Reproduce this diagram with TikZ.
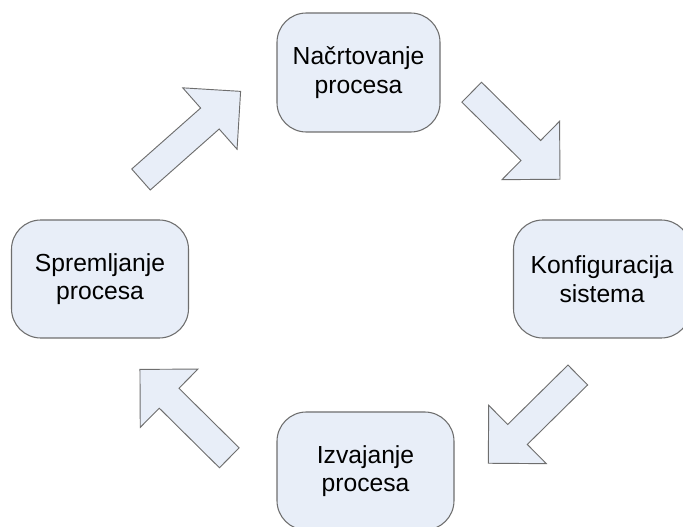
\documentclass[tikz,border=0pt]{standalone}
\usepackage{fontspec}
\setmainfont{Liberation Sans}
\definecolor{boxfill}{RGB}{232,238,248}
\definecolor{boxline}{RGB}{110,110,110}
\tikzset{
  box/.style={draw=boxline, fill=boxfill, line width=0.8pt, rounded corners=22pt,
    align=center, inner sep=0pt, font=\fontsize{18.5}{21.5}\selectfont},
  arrowshape/.style={draw=boxline, fill=boxfill, line width=0.7pt, line join=miter},
  pics/blockarrow/.style={code={
    \draw[arrowshape] (0,-14) -- ({#1-41},-14) -- ({#1-41},-41) -- (#1,0)
      -- ({#1-41},41) -- ({#1-41},14) -- (0,14) -- cycle;}}
}
\begin{document}
\begin{tikzpicture}[x=0.75pt,y=-0.75pt]
\useasboundingbox (0,0) rectangle (683,527);
\clip (0,0) rectangle (683,527);
\node[box, minimum width=122.25pt, minimum height=89.25pt] (plan) at (358.5,72.5) {Načrtovanje\\procesa};
\node[box, minimum width=132.75pt, minimum height=88.5pt] (konf) at (602,279) {Konfiguracija\\sistema};
\node[box, minimum width=132.75pt, minimum height=88.5pt] (izv) at (365.5,471) {Izvajanje\\procesa};
\node[box, minimum width=132.75pt, minimum height=88.5pt] (shr) at (100,279) {Spremljanje\\procesa};
\pic[rotate=41.5] at (141,179.5) {blockarrow=133};
\pic[rotate=-44.6] at (471.7,92.2) {blockarrow=124};
\pic[rotate=-135.4] at (577.8,375) {blockarrow=125.7};
\pic[rotate=135.3] at (229.3,457.8) {blockarrow=125.7};
\end{tikzpicture}
\end{document}
